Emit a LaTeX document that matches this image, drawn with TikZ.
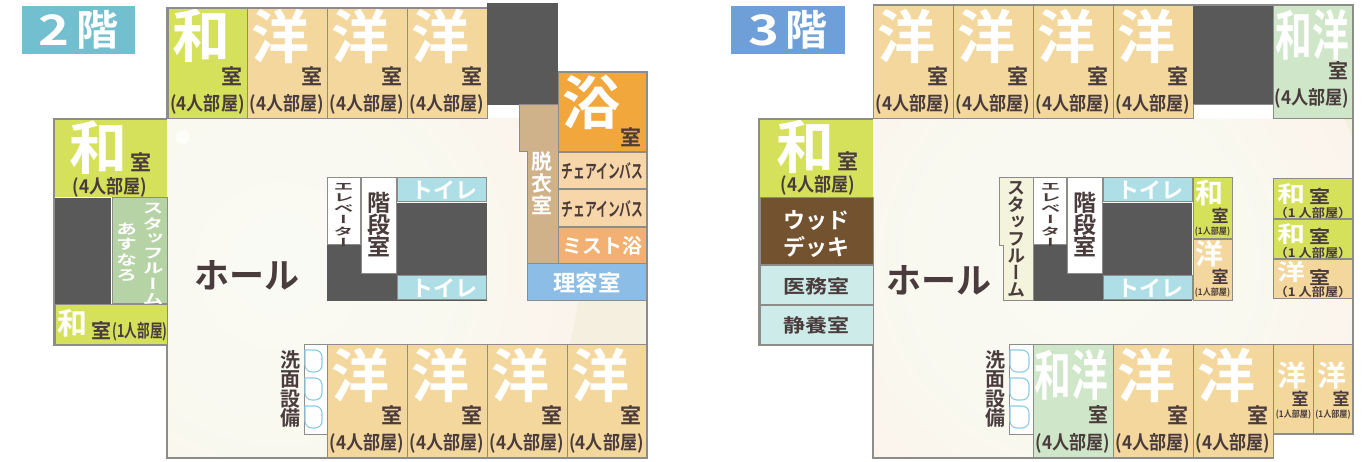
\documentclass[tikz,border=0pt]{standalone}
\usepackage{fontspec}
\setmainfont{Noto Sans CJK JP}
\newfontfamily\jp[BoldFont=Noto Sans CJK JP Bold]{Noto Sans CJK JP}
\newfontfamily\jpv[RawFeature=+vert,BoldFont=Noto Sans CJK JP Bold]{Noto Sans CJK JP}
\definecolor{wa}{HTML}{D5E05B}
\definecolor{yo}{HTML}{F3D79C}
\definecolor{wayo}{HTML}{CFE6C8}
\definecolor{bath}{HTML}{F2A73C}
\definecolor{chair}{HTML}{F7D6A9}
\definecolor{mist}{HTML}{F3B073}
\definecolor{barber}{HTML}{8BBDE6}
\definecolor{tan}{HTML}{CFB18A}
\definecolor{darkblock}{HTML}{595959}
\definecolor{toilet}{HTML}{AFDFE6}
\definecolor{staffg}{HTML}{B5D3A4}
\definecolor{staffp}{HTML}{F4F4DC}
\definecolor{deck}{HTML}{735230}
\definecolor{medic}{HTML}{CDEBE8}
\definecolor{ink}{HTML}{4A3C3C}
\definecolor{edge}{HTML}{8C8C88}
\definecolor{hallbase}{HTML}{F5EFE0}
\definecolor{sink}{HTML}{8CCBE6}
\definecolor{tagA}{HTML}{71BFCF}
\definecolor{tagB}{HTML}{6F9FD8}
\definecolor{glowA}{HTML}{FAFAF5}
\definecolor{glowB}{HTML}{F9F9F0}
\definecolor{glowC}{HTML}{FBF4EC}
\definecolor{glowD}{HTML}{F4F4E6}
\pgfdeclareradialshading{hallglow}{\pgfpoint{0bp}{0bp}}{%
 color(0bp)=(glowA);
 color(14bp)=(glowB);
 color(24bp)=(glowC);
 color(36bp)=(glowD);
 color(50bp)=(hallbase)}
\newcommand{\Fs}[1]{\fontsize{#1}{#1}\selectfont}
% \Room{name}{x0}{y0}{x1}{y1}{colour}
\newcommand{\Room}[6]{\node[roomcell,fill=#6,minimum width={(#4-#2)*1pt},minimum height={(#5-#3)*1pt}] (#1) at ({(#2+#4)/2},{(#3+#5)/2}) {};}
% \Txt{name}{x}{y}{size}{colour}{text}
\newcommand{\Txt}[6]{\node[label text,text=#5,font=\jp\bfseries\Fs{#4}] (#1) at ({#2},{#3}) {#6};}
\newcommand{\Thin}[6]{\node[label text,text=#5,font=\jp\Fs{#4}] (#1) at ({#2},{#3}) {#6};}
% \Cond{name}{x}{y}{size}{colour}{xscale}{text}
\newcommand{\Cond}[7]{\node[label text,text=#5,font=\jp\bfseries\Fs{#4}] (#1) at ({#2},{#3}) {\scalebox{#6}[1]{#7}};}
% \Squash{name}{x}{y}{size}{colour}{yscale}{text}
\newcommand{\Squash}[7]{\node[label text,text=#5,font=\jp\bfseries\Fs{#4}] (#1) at ({#2},{#3}) {\scalebox{1}[#6]{#7}};}
% \Vt{name}{x}{y}{size}{leading}{colour}{lines}
\newcommand{\Vt}[7]{\node[label text,text=#6,align=center,font=\jpv\bfseries\fontsize{#4}{#5}\selectfont] (#1) at ({#2},{#3}) {#7};}
% \VtS{name}{x}{y}{size}{yscale}{colour}{lines}: vertical stack, glyphs squashed
\newcommand{\VtS}[7]{\node[label text,text=#6,font=\jpv\bfseries\fontsize{#4}{#4}\selectfont] (#1) at ({#2},{#3}) {\scalebox{1}[#5]{\begin{tabular}{@{}c@{}}#7\end{tabular}}};}
% four-person guest room: \Four{name}{x0}{x1}{y0}{colour}{glyph}
\newcommand{\Four}[6]{%
 \Room{#1}{#2}{#4}{#3}{\FourBottom}{#5}
 \Thin{#1g}{#2+33}{\FourBottom-83}{58}{white}{\textbf{#6}}
 \Txt{#1s}{#3-15}{\FourBottom-43}{21}{ink}{室}
 \Cond{#1p}{(#2+#3)/2}{\FourBottom-15}{19}{ink}{.9}{(4人部屋)}}
\newcommand{\Sink}[3]{\draw[sink,line width=1.1pt,rounded corners=7pt] (#1,#3)--(#2,#3)--(#2,#3+22)--(#1,#3+22)[sharp corners]--cycle;}
\tikzset{
 x=1pt,y=-1pt,
 roomcell/.style={draw=edge,line width=1pt,inner sep=0pt,outer sep=0pt},
 label text/.style={inner sep=0pt,outer sep=0pt},
 floorline/.style={draw=edge,line width=2pt,line join=miter},
 floortag/.style={inner sep=0pt,text=white,font=\jp\bfseries\Fs{42}},
}
\begin{document}
\begin{tikzpicture}
\useasboundingbox (0,0) rectangle (1366,462);
\fill[white] (0,0) rectangle (1366,462);
%% ---------- 2F ----------
\node[floortag,fill=tagA,minimum width=113pt,minimum height=48pt] (tag2) at (78.5,30) {\scalebox{1.25}[1]{2}\hspace{7pt}階};
\path[fill=hallbase] (167,119) rectangle (647,458);
\begin{scope}
\clip (167,119) rectangle (647,458);
\shade[shading=hallglow] (280,265) circle (300);
\fill[white,opacity=.7] (183,137) circle (7);
\end{scope}
\def\FourBottom{119}
\Four{a1}{168}{247}{8}{wa}{和}
\Four{a2}{247}{327}{8}{yo}{洋}
\Four{a3}{327}{407}{8}{yo}{洋}
\Four{a4}{407}{487}{8}{yo}{洋}
\fill[darkblock] (487,3) rectangle (558,105);
\path[draw=edge,line width=1pt,fill=tan] (519,105)--(558,105)--(558,264)--(527,264)--(527,152)--(519,152)--cycle;
\Vt{dresst}{542}{183}{21}{22}{white}{脱\\衣\\室}
\Room{bathroom}{558}{72}{646}{152}{bath}
\Thin{bathg}{591}{102}{58}{white}{\textbf{浴}}
\Txt{baths}{631}{137}{21}{ink}{室}
\Room{chair1}{558}{153}{646}{189}{chair}
\Cond{chair1t}{602.5}{171}{19}{ink}{.62}{チェアインバス}
\Room{chair2}{558}{190}{646}{227}{chair}
\Cond{chair2t}{602.5}{209}{19}{ink}{.62}{チェアインバス}
\Room{mistr}{558}{228}{646}{264}{mist}
\Txt{mistt}{602.5}{246}{20}{white}{ミスト浴}
\Room{barb}{527}{264}{646}{301}{barber}
\Txt{barbt}{587}{283}{22.5}{white}{理容室}
% core
\fill[darkblock] (327,245) rectangle (487,301);
\fill[darkblock] (396,203) rectangle (487,274);
\Room{elev2}{327}{178}{360}{245}{white}
\VtS{elev2t}{343.5}{216.5}{20}{.52}{ink}{エ\\レ\\ベ\\ー\\タ\\ー}
\Room{stair2}{361}{178}{396}{274}{white}
\Vt{stair2t}{379}{225}{23}{22}{ink}{階\\段\\室}
\Room{wc2a}{397}{178}{486}{202}{toilet}
\Txt{wc2at}{444}{190}{22}{white}{トイレ}
\Room{wc2b}{397}{276}{486}{300}{toilet}
\Txt{wc2bt}{444}{288}{22}{white}{トイレ}
\Txt{hall2}{247}{275}{35}{ink}{ホール}
% left wing
\path[fill=wa] (55,119) rectangle (167,197);
\Thin{w2g}{98}{148}{58}{white}{\textbf{和}}
\Txt{w2s}{141}{162}{21}{ink}{室}
\Cond{w2p}{110}{187}{19}{ink}{.9}{(4人部屋)}
\fill[darkblock] (55,198) rectangle (111,304);
\Room{st2}{112}{198}{167}{304}{staffg}
\VtS{st2a}{153}{256}{21}{.68}{white}{ス\\タ\\ッ\\フ\\ル\\ー\\ム}
\VtS{st2b}{126.5}{254}{21}{.68}{white}{あ\\す\\な\\ろ}
\Room{w2b}{55}{305}{167}{345}{wa}
\Thin{w2bg}{72}{323}{30}{white}{\textbf{和}}
\Txt{w2bs}{101}{331}{20}{ink}{室}
\Cond{w2bp}{140}{332}{18}{ink}{.7}{(1人部屋)}
\draw[floorline] (167,119)--(54,119)--(54,345)--(167,345)--(167,458)--(647,458)--(647,72)--(558,72);
\draw[floorline] (167,119)--(167,8)--(487,8);
\draw[draw=edge,line width=1pt] (167,119)--(487,119)--(487,105);
% bottom rooms
\def\FourBottom{458}
\Four{b1}{327}{407}{345}{yo}{洋}
\Four{b2}{407}{487}{345}{yo}{洋}
\Four{b3}{487}{567}{345}{yo}{洋}
\Four{b4}{567}{646}{345}{yo}{洋}
\draw[floorline] (167,458)--(647,458);
\Room{wash2}{304}{345}{327}{434}{white}
\Sink{305}{322}{350}
\Sink{305}{322}{378}
\Sink{305}{322}{406}
\Vt{wash2t}{290}{389}{20}{19.5}{ink}{洗\\面\\設\\備}
%% ---------- 3F ----------
\node[floortag,fill=tagB,minimum width=114pt,minimum height=48pt] (tag3) at (788,30) {\scalebox{1.25}[1]{3}\hspace{7pt}階};
\path[fill=hallbase] (873,119)--(1353,119)--(1353,434)--(1273,434)--(1273,458)--(873,458)--cycle;
\begin{scope}
\clip (873,119)--(1353,119)--(1353,345)--(1273,345)--(1273,458)--(873,458)--cycle;
\shade[shading=hallglow] (1080,262) circle (300);
\end{scope}
\def\FourBottom{119}
\Four{c1}{873}{953}{5}{yo}{洋}
\Four{c2}{953}{1033}{5}{yo}{洋}
\Four{c3}{1033}{1113}{5}{yo}{洋}
\Four{c4}{1113}{1193}{5}{yo}{洋}
\fill[darkblock] (1193,5) rectangle (1273,105);
\Room{c5}{1273}{5}{1352}{119}{wayo}
\Cond{c5g}{1312}{35}{54}{white}{.68}{和洋}
\Txt{c5s}{1338}{71}{20}{ink}{室}
\Cond{c5p}{1312}{98}{19}{ink}{.9}{(4人部屋)}
\draw[floorline] (873,5)--(1353,5)--(1353,345);
\draw[draw=edge,line width=1pt] (873,119)--(1193,119) (1193,105)--(1273,105);
% core
\fill[darkblock] (1033,245) rectangle (1192,301);
\fill[darkblock] (1103,203) rectangle (1192,274);
\path[draw=edge,line width=1pt,fill=staffp] (999,178)--(1033,178)--(1033,301)--(1003,301)--(1003,246)--(999,246)--cycle;
\Vt{st3}{1016}{239}{18}{17}{ink}{ス\\タ\\ッ\\フ\\ル\\ー\\ム}
\Room{elev3}{1033}{178}{1066}{245}{white}
\VtS{elev3t}{1050.5}{216.5}{20}{.52}{ink}{エ\\レ\\ベ\\ー\\タ\\ー}
\Room{stair3}{1067}{178}{1102}{274}{white}
\Vt{stair3t}{1085}{225}{23}{22}{ink}{階\\段\\室}
\Room{wc3a}{1103}{178}{1192}{202}{toilet}
\Txt{wc3at}{1150}{190}{22}{white}{トイレ}
\Room{wc3b}{1103}{276}{1192}{300}{toilet}
\Txt{wc3bt}{1150}{288}{22}{white}{トイレ}
\Room{s1}{1193}{178}{1232}{239}{wa}
\Thin{s1g}{1209}{193}{28}{white}{\textbf{和}}
\Txt{s1s}{1220}{216}{17}{ink}{室}
\Cond{s1p}{1212.5}{232}{9}{ink}{.9}{(1人部屋)}
\Room{s2}{1193}{240}{1232}{301}{yo}
\Thin{s2g}{1209}{254}{28}{white}{\textbf{洋}}
\Txt{s2s}{1220}{277}{17}{ink}{室}
\Cond{s2p}{1212.5}{293}{9}{ink}{.9}{(1人部屋)}
\Room{r1}{1273}{179}{1352}{219}{wa}
\Squash{r1g}{1291}{194}{28}{white}{.8}{和}
\Squash{r1s}{1320}{196}{21}{ink}{.85}{室}
\Cond{r1p}{1313}{213}{12}{ink}{1.1}{（1 人部屋）}
\Room{r2}{1273}{220}{1352}{259}{wa}
\Squash{r2g}{1291}{234}{28}{white}{.8}{和}
\Squash{r2s}{1320}{236}{21}{ink}{.85}{室}
\Cond{r2p}{1313}{253}{12}{ink}{1.1}{（1 人部屋）}
\Room{r3}{1273}{260}{1352}{299}{yo}
\Squash{r3g}{1291}{272}{28}{white}{.8}{洋}
\Squash{r3s}{1320}{277}{21}{ink}{.85}{室}
\Cond{r3p}{1313}{292}{12}{ink}{1.1}{（1 人部屋）}
\Txt{hall3}{939}{280}{35}{ink}{ホール}
% left wing
\path[fill=wa] (760,119) rectangle (873,197);
\Thin{w3g}{805}{147}{58}{white}{\textbf{和}}
\Txt{w3s}{848}{161}{21}{ink}{室}
\Cond{w3p}{818}{185}{19}{ink}{.9}{(4人部屋)}
\Room{deck3}{760}{198}{873}{265}{deck}
\node[label text,text=white,align=center,font=\jp\bfseries\fontsize{22}{27}\selectfont] (deck3t) at (816,234) {ウッド\\デッキ};
\Room{med3}{760}{266}{873}{305}{medic}
\Squash{med3t}{816}{286}{22}{ink}{.85}{医務室}
\Room{rest3}{760}{306}{873}{345}{medic}
\Squash{rest3t}{816}{325}{22}{ink}{.85}{静養室}
\draw[floorline] (873,119)--(759,119)--(759,345)--(873,345)--(873,458)--(1273,458)--(1273,434)--(1353,434)--(1353,345);
% bottom rooms
\def\FourBottom{458}
\Room{d1}{1033}{345}{1113}{458}{wayo}
\Cond{d1g}{1071}{375}{54}{white}{.68}{和洋}
\Txt{d1s}{1098}{415}{20}{ink}{室}
\Cond{d1p}{1073}{443}{19}{ink}{.9}{(4人部屋)}
\Four{d2}{1113}{1193}{345}{yo}{洋}
\Four{d3}{1193}{1273}{345}{yo}{洋}
\draw[floorline] (1033,458)--(1273,458);
\Room{d4}{1273}{345}{1313}{434}{yo}
\Thin{d4g}{1292}{375}{29}{white}{\textbf{洋}}
\Txt{d4s}{1300}{399}{17}{ink}{室}
\Cond{d4p}{1293.5}{415}{9}{ink}{.9}{(1人部屋)}
\Room{d5}{1313}{345}{1353}{434}{yo}
\Thin{d5g}{1332}{375}{29}{white}{\textbf{洋}}
\Txt{d5s}{1341}{399}{17}{ink}{室}
\Cond{d5p}{1333}{415}{9}{ink}{.9}{(1人部屋)}
\draw[floorline] (1273,434)--(1353,434)--(1353,345);
\Room{wash3}{1009}{345}{1033}{434}{white}
\Sink{1010}{1029}{350}
\Sink{1010}{1029}{378}
\Sink{1010}{1029}{406}
\Vt{wash3t}{995}{389}{20}{19.5}{ink}{洗\\面\\設\\備}
\end{tikzpicture}
\end{document}
